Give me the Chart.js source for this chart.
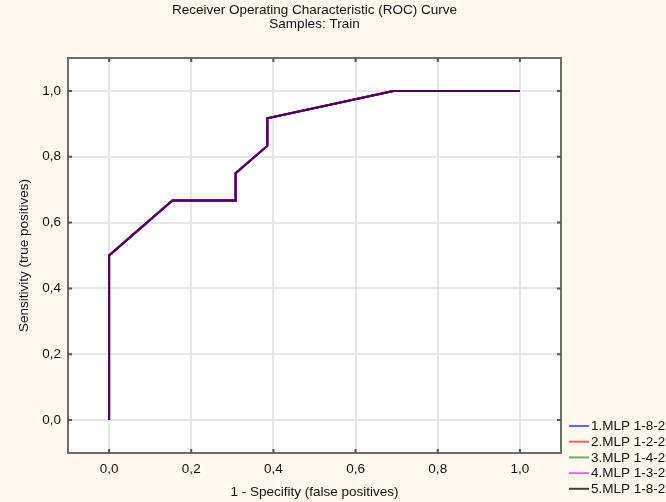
<!DOCTYPE html>
<html>
<head>
<meta charset="utf-8">
<script src="https://cdn.jsdelivr.net/npm/chart.js@4/dist/chart.umd.min.js"></script>
<style>
  html, body { margin: 0; padding: 0; background: #fef9ee; }
  #wrap { width: 666px; height: 502px; }
</style>
</head>
<body>
<div id="wrap"><canvas id="roc" width="666" height="502"></canvas></div>
<script>
// ROC curve, training sample - all five networks give the same curve
const falsePos = [0, 0, 0.154, 0.308, 0.308, 0.385, 0.385, 0.692, 1.0];
const truePos = [0, 0.5, 0.667, 0.667, 0.75, 0.833, 0.917, 1.0, 1.0];

const modelNames = ['1.MLP 1-8-2', '2.MLP 1-2-2', '3.MLP 1-4-2', '4.MLP 1-3-2', '5.MLP 1-8-2'];
const modelColors = ['#6464ff', '#ff6464', '#64b464', '#ff64ff', '#404040'];
const lineColors = ['#0000ff', '#ff0000', '#00a000', '#ff00ff', 'rgba(0,0,0,0.7)'];
const drawOrder = [2, 2, 2, 1, 0];

const tickValues = [0, 0.2, 0.4, 0.6, 0.8, 1.0];
const axisMin = -0.1;
const axisMax = 1.1;

const FONT = "Arial, 'Liberation Sans', sans-serif";
const FSIZE = 13.5;

function fmt(v) {
  return v.toFixed(1).replace('.', ',');
}

// background, frame, inward tick marks and legend
const decor = {
  id: 'decor',
  beforeDraw(chart) {
    const { ctx, chartArea: a } = chart;
    ctx.save();
    ctx.fillStyle = '#fef9ee';
    ctx.fillRect(0, 0, chart.width, chart.height);
    ctx.fillStyle = '#ffffff';
    ctx.fillRect(a.left, a.top, a.right - a.left, a.bottom - a.top);
    ctx.restore();
  },
  afterDatasetsDraw(chart) {
    const { ctx, chartArea: a, scales } = chart;
    ctx.save();
    ctx.strokeStyle = '#6e6e6e';
    ctx.lineWidth = 2;
    ctx.strokeRect(a.left, a.top, a.right - a.left, a.bottom - a.top);

    ctx.strokeStyle = '#555';
    ctx.beginPath();
    tickValues.forEach(v => {
      const x = scales.x.getPixelForValue(v);
      ctx.moveTo(x, a.bottom); ctx.lineTo(x, a.bottom - 4);
      ctx.moveTo(x, a.top); ctx.lineTo(x, a.top + 4);
      const y = scales.y.getPixelForValue(v);
      ctx.moveTo(a.left, y); ctx.lineTo(a.left + 4, y);
      ctx.moveTo(a.right, y); ctx.lineTo(a.right - 4, y);
    });
    ctx.stroke();
    ctx.restore();
  },
  afterDraw(chart) {
    const { ctx, chartArea: a } = chart;
    ctx.save();
    ctx.font = FSIZE + 'px ' + FONT;
    ctx.textBaseline = 'middle';
    ctx.fillStyle = '#111';
    chart.data.datasets.forEach((ds, i) => {
      const y = a.bottom - 27 + i * 15.7;
      ctx.strokeStyle = modelColors[i];
      ctx.lineWidth = 2;
      ctx.beginPath();
      ctx.moveTo(a.right + 8, y);
      ctx.lineTo(a.right + 28, y);
      ctx.stroke();
      ctx.fillText(ds.label, a.right + 30, y + 0.5);
    });
    ctx.restore();
  }
};

const datasets = modelNames.map((name, i) => ({
  label: name,
  data: falsePos.map((x, k) => ({ x: x, y: truePos[k] })),
  borderColor: lineColors[i],
  borderWidth: 2,
  pointRadius: 0,
  showLine: true,
  fill: false,
  tension: 0,
  order: drawOrder[i]
}));

const ctx = document.getElementById('roc').getContext('2d');
const chart = new Chart(ctx, {
  type: 'scatter',
  data: { datasets: datasets },
  options: {
    responsive: false,
    animation: false,
    // right padding + empty right axis keep the title centred over the plot
    layout: { padding: { top: 0, right: 37, bottom: 0, left: 0 } },
    plugins: {
      legend: { display: false },
      tooltip: { enabled: false },
      title: {
        display: true,
        text: ['Receiver Operating Characteristic (ROC) Curve', 'Samples: Train'],
        color: '#111',
        font: { family: FONT, size: FSIZE, weight: 'normal', lineHeight: '14px' },
        padding: { top: 3, bottom: 27 }
      }
    },
    scales: {
      x: {
        type: 'linear',
        min: axisMin,
        max: axisMax,
        afterBuildTicks: s => { s.ticks = tickValues.map(v => ({ value: v })); },
        afterFit: s => { s.height = 49; },
        grid: { color: '#e6e6e6', lineWidth: 2, drawTicks: false },
        border: { display: false },
        ticks: {
          padding: 8,
          color: '#111',
          font: { family: FONT, size: FSIZE },
          callback: v => fmt(v)
        },
        title: {
          display: true,
          text: '1 - Specifity (false positives)',
          color: '#111',
          font: { family: FONT, size: FSIZE },
          padding: { top: 0, bottom: 2 }
        }
      },
      y: {
        type: 'linear',
        min: axisMin,
        max: axisMax,
        afterBuildTicks: s => { s.ticks = tickValues.map(v => ({ value: v })); },
        afterFit: s => { s.width = 68; },
        grid: { color: '#e6e6e6', lineWidth: 2, drawTicks: false },
        border: { display: false },
        ticks: {
          padding: 7,
          color: '#111',
          font: { family: FONT, size: FSIZE },
          callback: v => fmt(v)
        },
        title: {
          display: true,
          text: 'Sensitivity (true positives)',
          color: '#111',
          font: { family: FONT, size: FSIZE },
          padding: { top: 16, bottom: 0 }
        }
      },
      yRight: {
        type: 'linear',
        position: 'right',
        min: axisMin,
        max: axisMax,
        afterFit: s => { s.width = 68; },
        grid: { display: false, drawTicks: false },
        border: { display: false },
        ticks: { display: false }
      }
    }
  },
  plugins: [decor]
});
</script>
</body>
</html>
